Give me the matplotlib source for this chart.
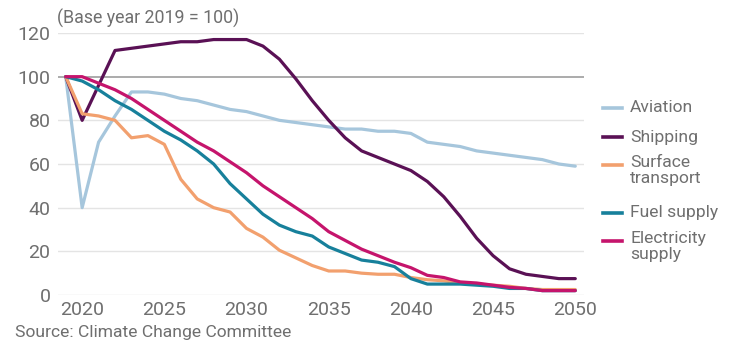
import matplotlib
matplotlib.use('Agg')
import matplotlib.pyplot as plt
from matplotlib.lines import Line2D

years = list(range(2019, 2051))

aviation = [100, 40, 70, 82, 93, 93, 92, 90, 89, 87, 85, 84, 82, 80, 79, 78, 77, 76, 76, 75, 75, 74,
            70, 69, 68, 66, 65, 64, 63, 62, 60, 59]
shipping = [100, 80, 96, 112, 113, 114, 115, 116, 116, 117, 117, 117, 114, 108, 99, 89, 80, 72, 66, 63,
            60, 57, 52, 45, 36, 26, 18, 12, 9.5, 8.5, 7.5, 7.5]
surface = [100, 83, 82, 80, 72, 73, 69, 53, 44, 40, 38, 30.5, 26.5, 20.5, 17, 13.5, 11, 11, 10, 9.5,
           9.5, 8, 7, 6.5, 5.5, 5, 4.5, 4, 3, 2.5, 2.5, 2.5]
fuel = [100, 98, 94, 89, 85, 80, 75, 71, 66, 60, 51, 44, 37, 32, 29, 27, 22, 19, 16, 15, 13, 7.5,
        5, 5, 5, 4.5, 4, 3, 3, 2, 2, 2]
electricity = [100, 100, 97, 94, 90, 85, 80, 75, 70, 66, 61, 56, 50, 45, 40, 35, 29, 25, 21, 18, 15,
               12.5, 9, 8, 6, 5.5, 4.5, 3.5, 3, 2, 2, 2]

series = ['Aviation', 'Shipping', 'Surface\ntransport', 'Fuel supply', 'Electricity\nsupply']
values = [aviation, shipping, surface, fuel, electricity]
colors = ['#a6c6dc', '#5a1155', '#f2a06e', '#17809b', '#c5146c']

yticks = [0, 20, 40, 60, 80, 100, 120]
xticks = [2020, 2025, 2030, 2035, 2040, 2045, 2050]

plt.rcParams['font.family'] = ['Roboto', 'DejaVu Sans']
grey = '#6f6f6f'

fig = plt.figure(figsize=(7.29, 3.47), dpi=100)
ax = fig.add_axes([57.5 / 729, 52 / 347, 526 / 729, 262 / 347])

# gridlines, the 100 baseline darker
for y in yticks:
    if y == 100:
        ax.axhline(y, color='#a5a5a5', lw=1.3, zorder=1)
    else:
        ax.axhline(y, color='#e4e4e4', lw=1.0, zorder=1)

for vals, c in zip(values, colors):
    ax.plot(years, vals, color=c, lw=2.3, clip_on=False, zorder=3,
            solid_joinstyle='round', solid_capstyle='round')

ax.set_xlim(2018.5, 2050.5)
ax.set_ylim(0, 120)
ax.set_xticks(xticks)
ax.set_yticks(yticks)
ax.tick_params(length=0, labelsize=14, colors=grey, pad=4)
ax.tick_params(axis='y', pad=5)
for s in ax.spines.values():
    s.set_visible(False)

# legend by hand, stacked at the right
leg_y = [108, 137, 165, 213, 241]
for lab, c, ly in zip(series, colors, leg_y):
    fy = 1 - ly / 347
    fig.add_artist(Line2D([603 / 729, 622 / 729], [fy, fy], color=c, lw=2.6))
    if '\n' in lab:
        fig.text(630 / 729, fy + 10 / 347, lab, ha='left', va='top',
                 fontsize=12.6, color=grey, linespacing=1.05)
    else:
        fig.text(630 / 729, fy, lab, ha='left', va='center', fontsize=12.6, color=grey)

fig.text(57 / 729, 1 - 18 / 347, '(Base year 2019 = 100)', fontsize=12.8, color=grey,
         ha='left', va='center')
fig.text(15 / 729, 1 - 332 / 347, 'Source: Climate Change Committee', fontsize=12.6, color=grey,
         ha='left', va='center')

fig.savefig('out.png', dpi=100, facecolor='white')
